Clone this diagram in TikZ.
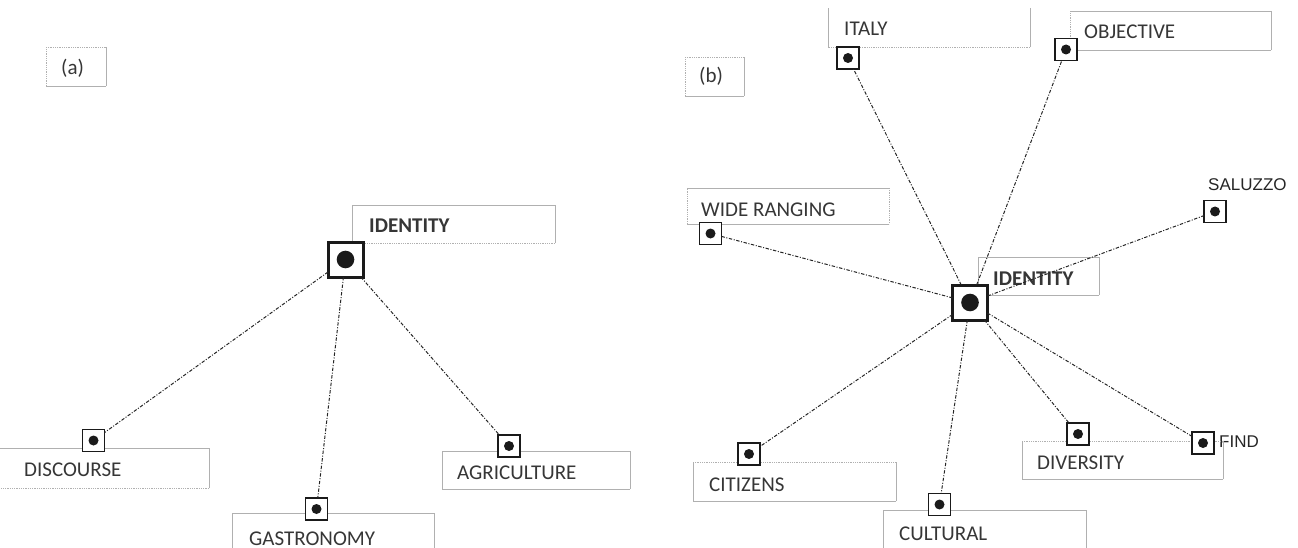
\documentclass[tikz,border=0pt]{standalone}
\usepackage{fontspec}
\setmainfont{Carlito}
\newfontfamily\plainsans{Liberation Sans}
\definecolor{boxgray}{HTML}{B0B0B0}
\definecolor{linegray}{HTML}{262626}
\definecolor{textgray}{HTML}{363636}
\definecolor{markdark}{HTML}{1A1A1A}
\newcommand\boxsides[5]{%
  \draw[#2] (#1.north west) -- (#1.north east);
  \draw[#3] (#1.north east) -- (#1.south east);
  \draw[#4] (#1.south east) -- (#1.south west);
  \draw[#5] (#1.south west) -- (#1.north west);}
\tikzset{
  sol/.style={draw=boxgray, line width=0.8pt},
  dot/.style={draw=boxgray, line width=0.8pt, dash pattern=on 0.9pt off 0.9pt},
  off/.style={draw=none},
  frame/.style={rectangle, draw=none, inner sep=0pt, outer sep=0pt, anchor=north west},
  lbl/.style={anchor=base west, inner sep=0pt, text=textgray, font=\fontsize{21}{25}\selectfont},
  hub lbl/.style={lbl, font=\fontsize{21}{25}\selectfont\bfseries},
  free lbl/.style={anchor=base west, inner sep=0pt, text=black!85, font=\plainsans\fontsize{17}{20}\selectfont},
  mk/.style={rectangle, draw=markdark, line width=1.8pt, fill=white, minimum size=22pt,
    inner sep=0pt, outer sep=0pt,
    path picture={\fill[markdark] (path picture bounding box.center) circle (5pt);}},
  hub/.style={rectangle, draw=markdark, line width=3pt, fill=white, minimum size=35pt,
    inner sep=0pt, outer sep=0pt,
    path picture={\fill[markdark] (path picture bounding box.center) circle (8.8pt);}},
  conn/.style={draw=linegray, line width=1pt, dash pattern=on 3.4pt off 1.6pt on 1pt off 1.6pt}
}
\begin{document}
\begin{tikzpicture}[x=1pt,y=-1pt]
\useasboundingbox (0,0) rectangle (1298,548);

% ---------- panel (a) ----------
\node[frame, minimum width=60pt, minimum height=39pt] (tagA) at (46,47) {};
\boxsides{tagA}{dot}{sol}{sol}{dot}
\node[lbl] (tagAtxt) at (61,75) {(a)};

\node[frame, minimum width=203pt, minimum height=38pt] (idAbox) at (352,205) {};
\boxsides{idAbox}{sol}{sol}{dot}{sol}
\node[hub lbl] (idAtxt) at (369,233) {IDENTITY};

\node[frame, minimum width=211pt, minimum height=40pt] (discBox) at (-2,448) {};
\boxsides{discBox}{sol}{sol}{dot}{off}
\node[lbl] (discTxt) at (24,476) {DISCOURSE};

\node[frame, minimum width=202pt, minimum height=40pt] (gastBox) at (232,513) {};
\boxsides{gastBox}{sol}{sol}{sol}{sol}
\node[lbl] (gastTxt) at (249,545) {GASTRONOMY};

\node[frame, minimum width=188pt, minimum height=38pt] (agriBox) at (442,451) {};
\boxsides{agriBox}{sol}{sol}{sol}{sol}
\node[lbl] (agriTxt) at (457,479) {AGRICULTURE};

\node[hub] (idA) at (345.5,259.5) {};
\node[mk] (disc) at (93.5,440.5) {};
\node[mk] (gast) at (316.5,509) {};
\node[mk] (agri) at (509,446) {};

\draw[conn] (idA) -- (disc);
\draw[conn] (idA) -- (gast);
\draw[conn] (idA) -- (agri);

% ---------- panel (b) ----------
\node[frame, minimum width=59pt, minimum height=39pt] (tagB) at (685,57) {};
\boxsides{tagB}{dot}{sol}{sol}{dot}
\node[lbl] (tagBtxt) at (699,83) {(b)};

\node[frame, minimum width=202pt, minimum height=39pt] (italyBox) at (828,8) {};
\boxsides{italyBox}{off}{sol}{dot}{sol}
\node[lbl] (italyTxt) at (844,35.5) {ITALY};

\node[frame, minimum width=201pt, minimum height=39pt] (objBox) at (1070,11) {};
\boxsides{objBox}{sol}{sol}{sol}{dot}
\node[lbl] (objTxt) at (1084,39) {OBJECTIVE};

\node[frame, minimum width=202pt, minimum height=36pt] (wideBox) at (687,188) {};
\boxsides{wideBox}{sol}{dot}{sol}{dot}
\node[lbl] (wideTxt) at (701,216) {WIDE RANGING};

\node[frame, minimum width=121pt, minimum height=38pt] (idBbox) at (978,257) {};
\boxsides{idBbox}{sol}{sol}{sol}{sol}
\node[hub lbl] (idBtxt) at (993,285) {IDENTITY};

\node[free lbl] (salTxt) at (1208,191) {SALUZZO};
\node[free lbl] (findTxt) at (1219,447) {FIND};

\node[frame, minimum width=201pt, minimum height=38pt] (divBox) at (1022,441) {};
\boxsides{divBox}{dot}{sol}{sol}{sol}
\node[lbl] (divTxt) at (1037,469) {DIVERSITY};

\node[frame, minimum width=203pt, minimum height=39pt] (citBox) at (693,462) {};
\boxsides{citBox}{dot}{sol}{sol}{sol}
\node[lbl] (citTxt) at (709,491) {CITIZENS};

\node[frame, minimum width=203pt, minimum height=40pt] (culBox) at (883,510) {};
\boxsides{culBox}{sol}{sol}{sol}{sol}
\node[lbl] (culTxt) at (899,540) {CULTURAL};

\node[hub] (idB) at (970,302.5) {};
\node[mk] (italy) at (848,58) {};
\node[mk] (obj) at (1066,49.5) {};
\node[mk] (wide) at (710.5,233.5) {};
\node[mk] (sal) at (1215,211.5) {};
\node[mk] (div) at (1078,434) {};
\node[mk] (find) at (1203,443) {};
\node[mk] (cit) at (749,454) {};
\node[mk] (cul) at (939.5,504.5) {};

\draw[conn] (idB) -- (italy);
\draw[conn] (idB) -- (obj);
\draw[conn] (idB) -- (wide);
\draw[conn] (idB) -- (sal);
\draw[conn] (idB) -- (div);
\draw[conn] (idB) -- (find);
\draw[conn] (idB) -- (cit);
\draw[conn] (idB) -- (cul);
\end{tikzpicture}
\end{document}
